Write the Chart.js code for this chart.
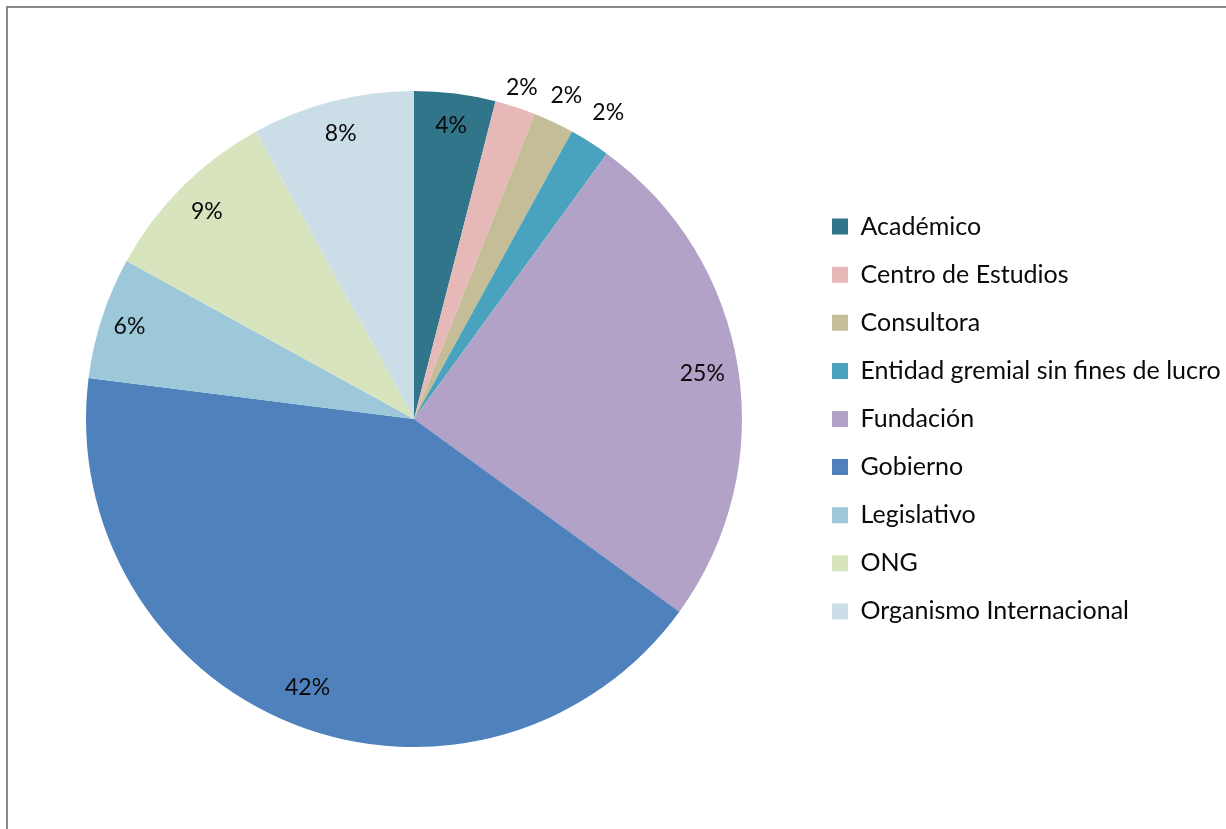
<!DOCTYPE html>
<html>
<head>
<meta charset="utf-8">
<script src="https://cdn.jsdelivr.net/npm/chart.js@4.4.1/dist/chart.umd.min.js"></script>
<style>
  html, body { margin: 0; padding: 0; background: #fff; }
  #wrap { position: relative; width: 1226px; height: 829px; overflow: hidden; }
  #frame { position: absolute; left: 6px; top: 6px; right: -10px; bottom: -10px; border-left: 2px solid #888; border-top: 2px solid #888; }
  canvas { position: absolute; left: 0; top: 0; }
</style>
</head>
<body>
<div id="wrap">
  <div id="frame"></div>
  <canvas id="pieChart" width="1226" height="829"></canvas>
</div>
<script>
const categories = [
  'Académico',
  'Centro de Estudios',
  'Consultora',
  'Entidad gremial sin fines de lucro',
  'Fundación',
  'Gobierno',
  'Legislativo',
  'ONG',
  'Organismo Internacional',
];
const shares = [4, 2, 2, 2, 25, 42, 6, 9, 8];

const sliceColors = ['#31758a', '#e6b9b8', '#c4bd97', '#4aa3be', '#b3a2c7', '#4f81bd', '#9dc8d9', '#d7e4bd', '#cbdee8'];
// how far from the centre each percentage sits, as a share of the radius
const labelRadius = [0.903, 1.064, 1.091, 1.105, 0.89, 0.882, 0.912, 0.893, 0.898];

const fontFamily = 'Lato';
const legendSize = 25;
const legendGap = 23.1;
const boxSize = 16;

// legend boxes start at x=832, pie centred at x=414
const measure = document.createElement('canvas').getContext('2d');
measure.font = `${legendSize}px ${fontFamily}`;
const longest = Math.max(...categories.map((c) => measure.measureText(c).width));
const legendLeft = 832 - legendGap;
const legendWidth = legendGap + boxSize + legendSize / 2 + longest + 10;

const percentLabels = {
  id: 'percentLabels',
  afterDatasetsDraw(chart) {
    const { ctx } = chart;
    const total = shares.reduce((a, b) => a + b, 0);
    ctx.save();
    ctx.font = `23px ${fontFamily}`;
    ctx.fillStyle = '#0a0a0a';
    ctx.textAlign = 'center';
    ctx.textBaseline = 'middle';
    chart.getDatasetMeta(0).data.forEach((arc, i) => {
      const { x, y, startAngle, endAngle, outerRadius } = arc.getProps(['x', 'y', 'startAngle', 'endAngle', 'outerRadius'], true);
      const mid = (startAngle + endAngle) / 2;
      const r = outerRadius * labelRadius[i];
      ctx.fillText(`${Math.round((shares[i] / total) * 100)}%`, x + Math.cos(mid) * r, y + Math.sin(mid) * r);
    });
    ctx.restore();
  },
};

new Chart(document.querySelector('#pieChart'), {
  type: 'pie',
  data: {
    labels: categories,
    datasets: [{ data: shares, backgroundColor: sliceColors, borderWidth: 0, hoverOffset: 0 }],
  },
  options: {
    responsive: false,
    animation: false,
    layout: {
      padding: { left: 2 * 414 - legendLeft, right: 1226 - legendLeft - legendWidth, top: 91, bottom: 82 },
    },
    plugins: {
      tooltip: { enabled: false },
      legend: {
        position: 'right',
        labels: {
          color: '#0a0a0a',
          font: { family: fontFamily, size: legendSize },
          boxWidth: boxSize,
          boxHeight: 16,
          padding: legendGap,
        },
      },
    },
  },
  plugins: [percentLabels],
});
</script>
</body>
</html>
